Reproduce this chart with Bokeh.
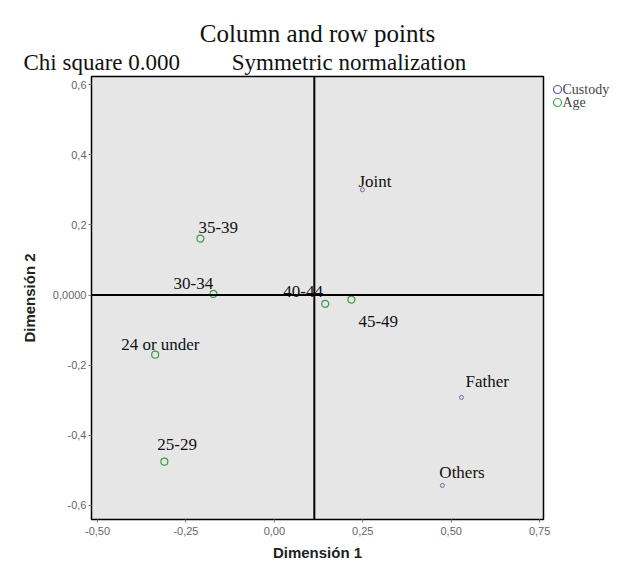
from bokeh.plotting import figure
from bokeh.models import (ColumnDataSource, Span, FixedTicker, Title, Range1d)
from bokeh.layouts import row
from bokeh.core.properties import value
from bokeh.embed import file_html
from bokeh.resources import INLINE

# ---- data ----
custody_names = ["Joint", "Father", "Others"]
custody_dim1 = [0.249, 0.529, 0.475]
custody_dim2 = [0.300, -0.292, -0.543]

age_names = ["24 or under", "25-29", "30-34", "35-39", "40-44", "45-49"]
age_dim1 = [-0.337, -0.311, -0.172, -0.209, 0.144, 0.218]
age_dim2 = [-0.170, -0.475, 0.003, 0.161, -0.025, -0.013]

x_ticks = [-0.50, -0.25, 0.00, 0.25, 0.50, 0.75]
x_tick_labels = ["-0,50", "-0,25", "0,00", "0,25", "0,50", "0,75"]
y_ticks = [-0.6, -0.4, -0.2, 0.0, 0.2, 0.4, 0.6]
y_tick_labels = ["-0,6", "-0,4", "-0,2", "0,0000", "0,2", "0,4", "0,6"]

legend_names = ["Custody", "Age"]
legend_colors = ["#5a5ac8", "#3ea84a"]

ref_x = 0.113
ref_y = 0.0

# label placement (pixel offsets, layout only)
custody_dx = [-4, 4, -3]
custody_dy = [-8, -16, -13]
age_dx = [-34, -7, -40, -2, -42, 7]
age_dy = [-10, -17, -10, -11, -12, 22]

SERIF = "Liberation Serif"
SANS = "Liberation Sans"

W_MAIN, W_LEG, H = 552, 64, 568
B_TOP, B_BOTTOM = 76, 49

p = figure(width=W_MAIN, height=H, output_backend="svg", toolbar_location=None,
           x_range=(-0.517, 0.761), y_range=(-0.64, 0.623),
           min_border_left=91, min_border_right=9, min_border_top=B_TOP,
           min_border_bottom=B_BOTTOM)

p.background_fill_color = "#e6e6e6"
p.border_fill_color = "white"
p.outline_line_color = "black"
p.outline_line_width = 1.5
p.xgrid.visible = False
p.ygrid.visible = False

for ax, ticks, labels in ((p.xaxis[0], x_ticks, x_tick_labels),
                          (p.yaxis[0], y_ticks, y_tick_labels)):
    ax.ticker = FixedTicker(ticks=ticks)
    ax.major_label_overrides = {t: l for t, l in zip(ticks, labels)}
    ax.minor_tick_line_color = None
    ax.major_tick_in = 0
    ax.major_tick_out = 3
    ax.major_tick_line_color = "#777777"
    ax.axis_line_color = None
    ax.major_label_text_font = SANS
    ax.major_label_text_font_size = "11px"
    ax.major_label_text_color = "#666666"
    ax.axis_label_text_font = SANS
    ax.axis_label_text_font_style = "bold"
    ax.axis_label_text_font_size = "15px"
    ax.axis_label_text_color = "#222222"

p.xaxis.axis_label = "Dimensión 1"
p.yaxis.axis_label = "Dimensión 2"
p.xaxis.major_label_standoff = 4
p.yaxis.major_label_standoff = 2
p.xaxis.axis_label_standoff = 6
p.yaxis.axis_label_standoff = 12

p.add_layout(Span(location=ref_x, dimension="height", line_color="black", line_width=2))
p.add_layout(Span(location=ref_y, dimension="width", line_color="black", line_width=2))

cs = ColumnDataSource(dict(x=custody_dim1, y=custody_dim2, name=custody_names,
                           dx=custody_dx, dy=custody_dy))
asrc = ColumnDataSource(dict(x=age_dim1, y=age_dim2, name=age_names,
                             dx=age_dx, dy=age_dy))

p.scatter("x", "y", source=cs, size=4, marker="circle", fill_color=None,
          line_color="#6a6aa8", line_width=1)
p.scatter("x", "y", source=asrc, size=7, marker="circle", fill_color=None,
          line_color="#3e9a4a", line_width=1.2)

for src in (cs, asrc):
    p.text("x", "y", text="name", source=src, x_offset="dx", y_offset="dy",
           text_font=value(SERIF), text_font_size="17px", text_color="#111111",
           text_align="left", text_baseline="middle")

# titles (first added sits nearest the frame)
nb = "\u00a0" * 9
p.add_layout(Title(text="Chi square 0.000" + nb + "Symmetric normalization",
                   align="left", offset=-68, standoff=3,
                   text_font=SERIF, text_font_size="23px",
                   text_font_style="normal", text_color="#111111"), "above")
p.add_layout(Title(text="Column and row points", align="center", offset=-4,
                   standoff=0, text_font=SERIF, text_font_size="25px",
                   text_font_style="normal", text_color="#111111"), "above")

# ---- legend panel: frame matches the main frame, y in page pixels ----
lg = figure(width=W_LEG, height=H, output_backend="svg", toolbar_location=None,
            x_range=Range1d(W_MAIN, W_MAIN + W_LEG),
            y_range=Range1d(H - B_BOTTOM, B_TOP),
            x_axis_location=None, y_axis_location=None,
            min_border_left=0, min_border_right=0,
            min_border_top=B_TOP, min_border_bottom=B_BOTTOM,
            outline_line_color=None)
lg.title.visible = False
lg.grid.visible = False
lg.background_fill_color = "white"
lg.border_fill_color = "white"
leg_y = [89, 102]
leg_src = ColumnDataSource(dict(x=[557, 557], y=leg_y, name=legend_names,
                                color=legend_colors))
lg.scatter("x", "y", source=leg_src, size=8, marker="circle", fill_color=None,
           line_color="color", line_width=1.2)
lg.text("x", "y", text="name", source=leg_src, x_offset=5,
        text_font=value(SERIF), text_font_size="14px", text_color="#444444",
        text_align="left", text_baseline="middle")

layout = row(p, lg, spacing=0)
open("out.html", "w").write(file_html(layout, INLINE))
